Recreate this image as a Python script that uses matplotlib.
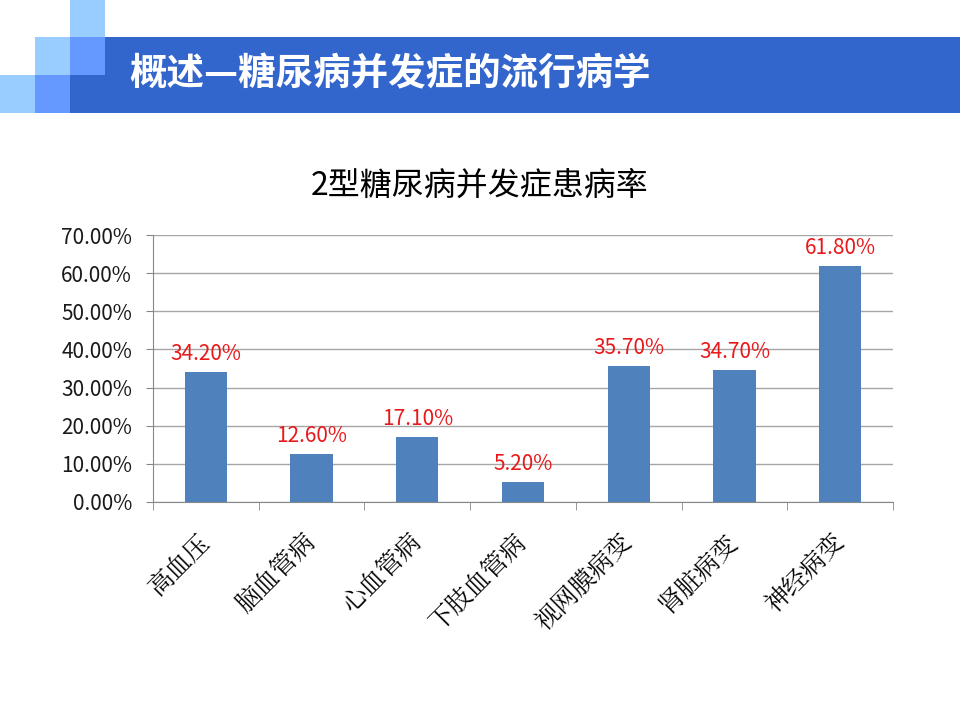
import matplotlib
matplotlib.use("Agg")
import matplotlib.pyplot as plt
from matplotlib.patches import Rectangle
from matplotlib.ticker import FuncFormatter, FixedLocator

plt.rcParams['font.family'] = ['Noto Sans CJK SC', 'DejaVu Sans']

# data
categories = ["高血压", "脑血管病", "心血管病", "下肢血管病", "视网膜病变", "肾脏病变", "神经病变"]
rates = [0.342, 0.126, 0.171, 0.052, 0.357, 0.347, 0.618]
value_labels = ["34.20%", "12.60%", "17.10%", "5.20%", "35.70%", "34.70%", "61.80%"]
y_ticks = [0.0, 0.1, 0.2, 0.3, 0.4, 0.5, 0.6, 0.7]

header = "概述—糖尿病并发症的流行病学"
chart_title = "2型糖尿病并发症患病率"

W, H = 960, 720
fig = plt.figure(figsize=(W / 100, H / 100), dpi=100)

# header banner and decorative squares (pixel coords)
bg = fig.add_axes([0, 0, 1, 1])
bg.set_xlim(0, W)
bg.set_ylim(H, 0)
bg.axis("off")
light = "#99CCFF"
mid = "#6699FF"
banner = "#3366CC"
bg.add_patch(Rectangle((69, 37), W - 69, 76, color=banner, lw=0))
for (x, y, c) in [(70, 0, light), (35, 37, light), (70, 37, mid), (0, 75, light), (35, 75, mid)]:
    bg.add_patch(Rectangle((x, y), 35, 38, color=c, lw=0))
bg.text(129, 74, header, color="white", fontsize=27, fontweight="bold",
        va="center", ha="left")
bg.text(480, 186, chart_title, color="black", fontsize=23, va="center", ha="center")

# chart
ax = fig.add_axes([153 / W, 1 - 502 / H, (893 - 153) / W, (502 - 235) / H])
x = range(len(categories))
bars = ax.bar(x, rates, width=0.4, color="#4F81BD", zorder=3)
ax.set_xlim(-0.5, len(categories) - 0.5)
ax.set_ylim(0, 0.7)
ax.set_yticks(y_ticks)
ax.yaxis.set_major_formatter(FuncFormatter(lambda v, p: f"{v * 100:.2f}%"))
ax.tick_params(axis="y", labelsize=15, length=5, color="#888888", pad=10,
               labelcolor="#1a1a1a")
ax.grid(axis="y", color="#A6A6A6", lw=1, zorder=0)

ax.set_xticks(list(x))
ax.set_xticklabels(categories, rotation=45, ha="right", va="center",
                   rotation_mode="anchor", fontsize=18,
                   family=['Noto Serif CJK SC', 'Noto Sans CJK SC'])
ax.tick_params(axis="x", which="major", length=0, pad=26)
ax.xaxis.set_minor_locator(FixedLocator([i - 0.5 for i in range(len(categories) + 1)]))
ax.tick_params(axis="x", which="minor", length=6, color="#888888")

for s in ["top", "right"]:
    ax.spines[s].set_visible(False)
for s in ["left", "bottom"]:
    ax.spines[s].set_color("#888888")

for b, lab in zip(bars, value_labels):
    ax.annotate(lab, (b.get_x() + b.get_width() / 2, b.get_height()),
                xytext=(0, 5), textcoords="offset points", ha="center", va="bottom",
                color="#E8191B", fontsize=15)

fig.savefig("out.png", dpi=100)
